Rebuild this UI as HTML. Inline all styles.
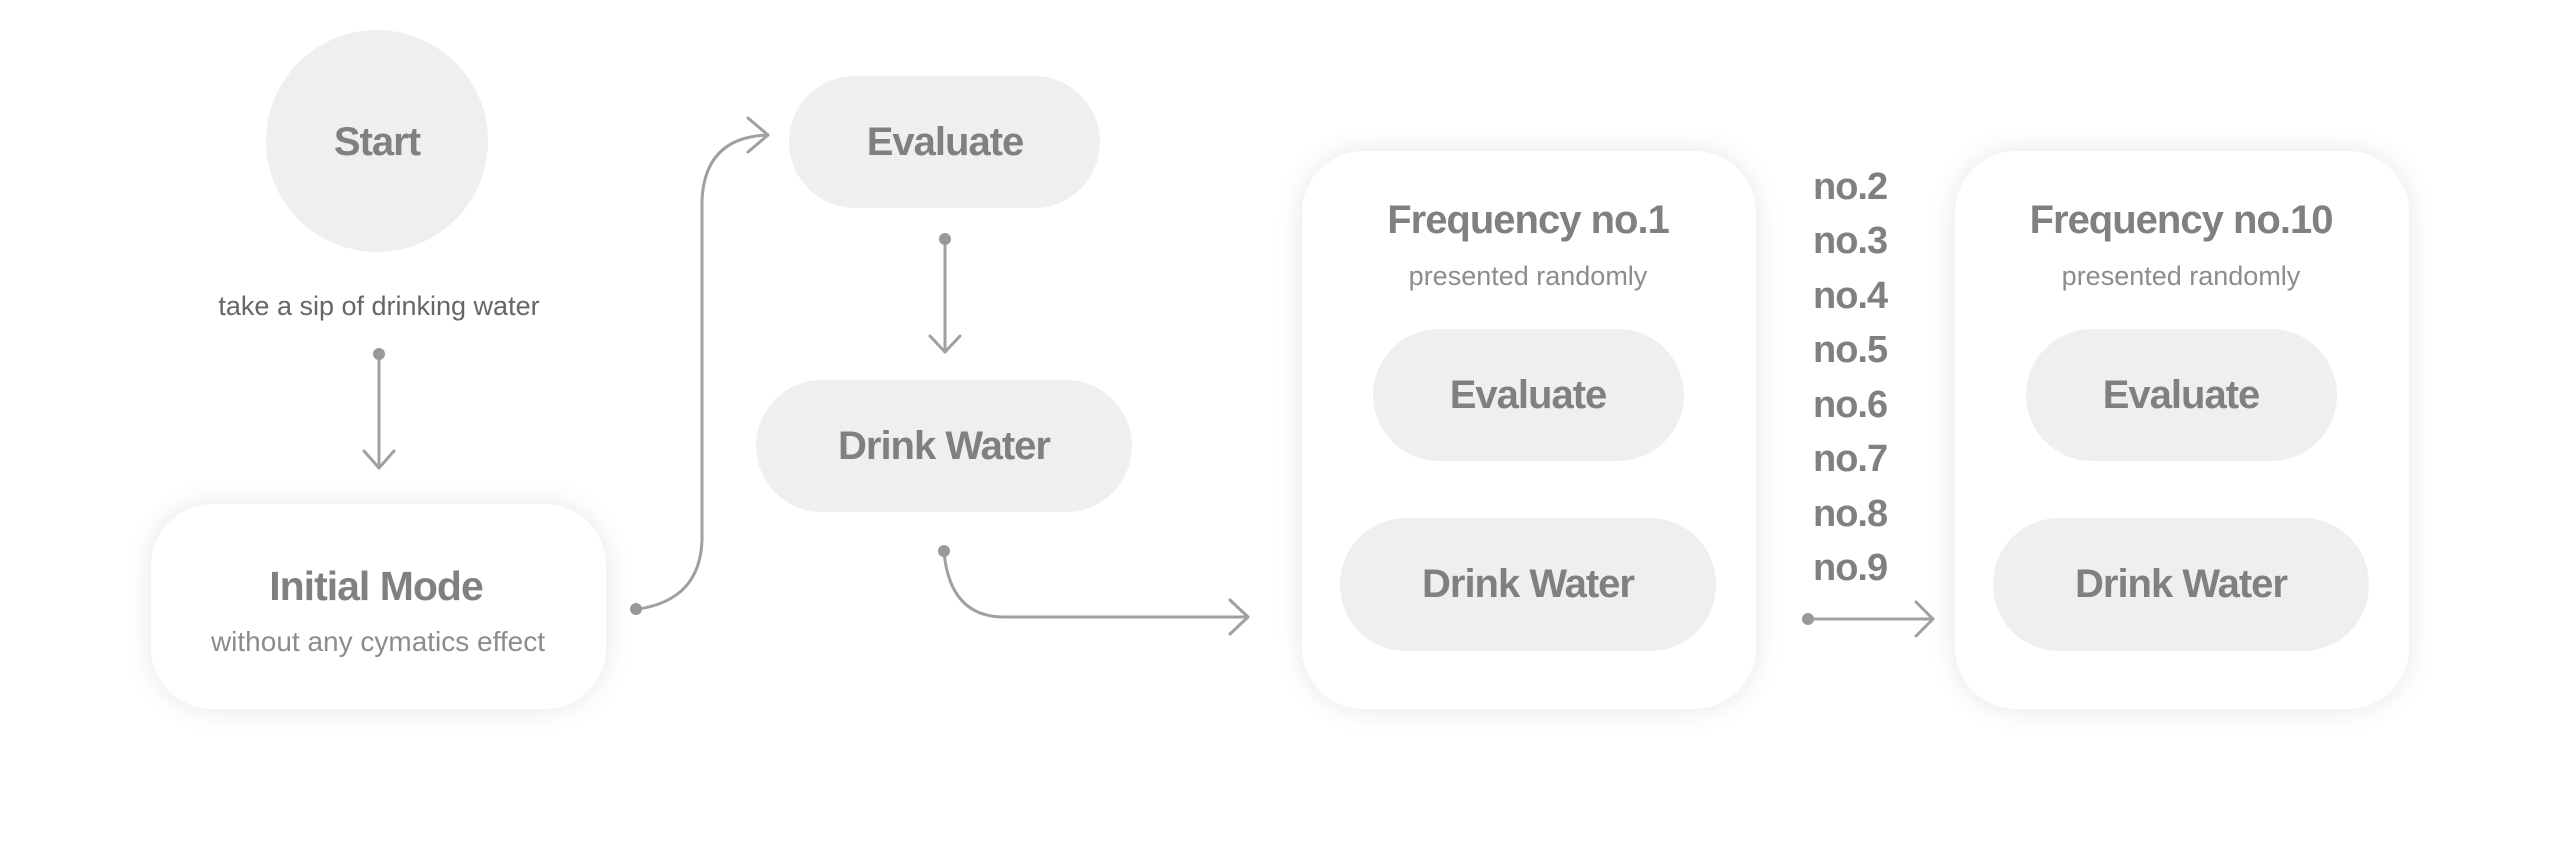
<!DOCTYPE html>
<html><head><meta charset="utf-8"><style>
html,body{margin:0;padding:0;background:#fff;}
svg{display:block;}
text{font-family:"Liberation Sans",sans-serif;}
.b{font-weight:bold;fill:#808080;letter-spacing:-1px;}
.s{fill:#8c8c8c;}
</style></head><body>
<svg width="2557" height="859" viewBox="0 0 2557 859" xmlns="http://www.w3.org/2000/svg">
<defs>
<filter id="sh" x="-20%" y="-20%" width="140%" height="140%">
<feGaussianBlur in="SourceAlpha" stdDeviation="14"/>
<feComponentTransfer><feFuncA type="linear" slope="0.10"/></feComponentTransfer>
<feMerge><feMergeNode/><feMergeNode in="SourceGraphic"/></feMerge>
</filter>
</defs>
<g fill="none" stroke="#a0a0a0" stroke-width="3" stroke-linecap="round" stroke-linejoin="round">
<!-- start to initial -->
<line x1="379" y1="354" x2="379" y2="468"/>
<polyline points="364,451 379,468 394,451"/>
<!-- initial to evaluate -->
<path d="M638,609 Q700,600 702,540 L702,200 Q705,137 768,135"/>
<polyline points="748,118 768,135 748,152"/>
<!-- evaluate to drink -->
<line x1="945" y1="239" x2="945" y2="352"/>
<polyline points="930,336 945,352 960,336"/>
<!-- drink to freq1 -->
<path d="M944,552 Q950,617 1004,617 L1248,617"/>
<polyline points="1230,600 1248,617 1230,634"/>
<!-- inside boxes -->
<line x1="1528" y1="465" x2="1528" y2="509"/>
<polyline points="1515,496 1528,509 1541,496"/>
<line x1="2181" y1="465" x2="2181" y2="509"/>
<polyline points="2168,496 2181,509 2194,496"/>
<!-- no arrow -->
<line x1="1808" y1="619" x2="1933" y2="619"/>
<polyline points="1916,602 1933,619 1916,636"/>
</g>
<g fill="#999">
<circle cx="379" cy="354" r="6"/>
<circle cx="636" cy="609" r="6"/>
<circle cx="945" cy="239" r="6"/>
<circle cx="944" cy="551" r="6"/>
<circle cx="1808" cy="619" r="6"/>
</g>

<!-- Start -->
<circle cx="377" cy="141" r="111" fill="#efefef"/>
<text x="377" y="155" text-anchor="middle" class="b" font-size="40">Start</text>
<text x="379" y="315" text-anchor="middle" fill="#666" font-size="27">take a sip of drinking water</text>

<!-- Initial Mode -->
<rect x="151" y="504" width="455" height="205" rx="62" fill="#fff" filter="url(#sh)"/>
<text x="376" y="600" text-anchor="middle" class="b" font-size="41">Initial Mode</text>
<text x="378" y="651" text-anchor="middle" class="s" font-size="28">without any cymatics effect</text>

<!-- Evaluate / Drink -->
<rect x="789" y="76" width="311" height="132" rx="66" fill="#efefef"/>
<text x="945" y="155" text-anchor="middle" class="b" font-size="40">Evaluate</text>
<rect x="756" y="380" width="376" height="132" rx="66" fill="#efefef"/>
<text x="944" y="459" text-anchor="middle" class="b" font-size="40">Drink Water</text>

<!-- Freq 1 -->
<rect x="1302" y="151" width="454" height="558" rx="62" fill="#fff" filter="url(#sh)"/>
<text x="1528" y="233" text-anchor="middle" class="b" font-size="40">Frequency no.1</text>
<text x="1528" y="285" text-anchor="middle" class="s" font-size="27">presented randomly</text>
<rect x="1373" y="329" width="311" height="132" rx="66" fill="#efefef"/>
<text x="1528" y="408" text-anchor="middle" class="b" font-size="40">Evaluate</text>
<rect x="1340" y="518" width="376" height="133" rx="66" fill="#efefef"/>
<text x="1528" y="597" text-anchor="middle" class="b" font-size="40">Drink Water</text>

<!-- numbers -->
<g class="b" font-size="38">
<text x="1813" y="199">no.2</text>
<text x="1813" y="253">no.3</text>
<text x="1813" y="308">no.4</text>
<text x="1813" y="362">no.5</text>
<text x="1813" y="417">no.6</text>
<text x="1813" y="471">no.7</text>
<text x="1813" y="526">no.8</text>
<text x="1813" y="580">no.9</text>
</g>

<!-- Freq 10 -->
<rect x="1955" y="151" width="454" height="558" rx="62" fill="#fff" filter="url(#sh)"/>
<text x="2181" y="233" text-anchor="middle" class="b" font-size="40">Frequency no.10</text>
<text x="2181" y="285" text-anchor="middle" class="s" font-size="27">presented randomly</text>
<rect x="2026" y="329" width="311" height="132" rx="66" fill="#efefef"/>
<text x="2181" y="408" text-anchor="middle" class="b" font-size="40">Evaluate</text>
<rect x="1993" y="518" width="376" height="133" rx="66" fill="#efefef"/>
<text x="2181" y="597" text-anchor="middle" class="b" font-size="40">Drink Water</text>
</svg>
</body></html>
